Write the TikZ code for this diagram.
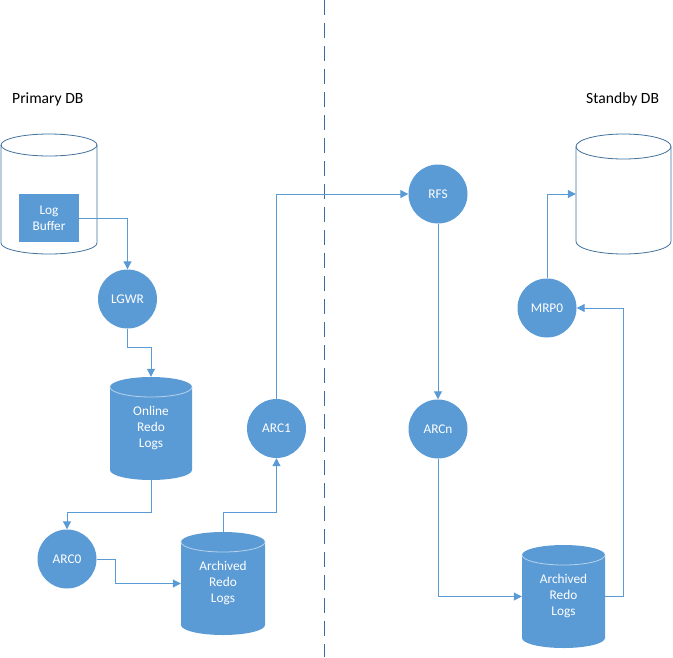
\documentclass[tikz,border=0pt]{standalone}
\usepackage{fontspec}
\setmainfont{Carlito}
\usetikzlibrary{arrows.meta}
\definecolor{dbblue}{HTML}{5B9BD5}
\definecolor{outl}{HTML}{41719C}
\definecolor{divc}{HTML}{3A6A9E}
\newcommand{\dbcyl}[8]{%
  \path[#1] ({#3-#6},{-(#4)-(#7)}) -- ({#3-#6},{-(#5)+(#7)})
     arc[start angle=180,end angle=360,x radius=#6pt,y radius=#7pt]
     -- ({#3+#6},{-(#4)-(#7)})
     arc[start angle=0,end angle=180,x radius=#6pt,y radius=#7pt] -- cycle;
  \draw[#1 rim] ({#3-#6},{-(#4)-(#7)}) arc[start angle=180,end angle=360,x radius=#6pt,y radius=#7pt];
  \node[cylbox, minimum width={2*#6}, minimum height={#5-#4}] (#2) at ({#3},{-(#4+#5)/2}) {#8};
}
\begin{document}
\begin{tikzpicture}[x=1pt,y=1pt,
  font=\fontsize{13.3}{16}\selectfont,
  lbl/.style={inner sep=0pt, anchor=west, font=\fontsize{15.6}{18}\selectfont, text=black},
  proc/.style={circle, fill=dbblue, minimum size=59pt, inner sep=0pt, text=white},
  lbuf/.style={rectangle, fill=dbblue, minimum width=60pt, minimum height=48pt, inner sep=0pt, text=white, align=center},
  cylbox/.style={rectangle, draw=none, inner sep=0pt, text=white, align=center},
  cylfill/.style={fill=dbblue},
  cylfill rim/.style={draw=white!55!dbblue, line width=0.8pt},
  cyloutline/.style={draw=outl, fill=white, line width=0.8pt},
  cyloutline rim/.style={draw=outl, line width=0.8pt},
  conn/.style={draw=dbblue, line width=1pt, -{Triangle[length=8pt,width=8pt]}},
  divider/.style={draw=divc, line width=1pt, dash pattern=on 15pt off 8pt}
]
\useasboundingbox (0,0) rectangle (673,-657);
\coordinate (divtop) at (324,0);
\coordinate (divbot) at (324,-657);
\draw[divider] (divtop) -- (divbot);

\node[lbl] (primary) at (12,-99) {Primary DB};
\node[lbl] (standbylbl) at (586,-99) {Standby DB};

\dbcyl{cyloutline}{primarydb}{49}{134}{254}{48}{11}{}
\dbcyl{cyloutline}{standby}{623.5}{134}{254}{47.5}{12.5}{}
\dbcyl{cylfill}{online}{151}{377}{480}{41}{10}{Online\\Redo\\Logs}
\dbcyl{cylfill}{archL}{223}{532}{635}{42}{10}{Archived\\Redo\\Logs}
\dbcyl{cylfill}{archR}{563.5}{545}{648}{41.5}{10}{Archived\\Redo\\Logs}

\node[lbuf] (logbuf) at (49,-218) {Log\\Buffer};

\node[proc] (lgwr) at (127.5,-299) {LGWR};
\node[proc] (arc1) at (276.5,-428.5) {ARC1};
\node[proc] (arc0) at (67,-559) {ARC0};
\node[proc] (rfs) at (438,-194) {RFS};
\node[proc] (arcn) at (438,-429) {ARCn};
\node[proc] (mrp0) at (547,-308) {MRP0};

\draw[conn] (logbuf.east) -| (lgwr.north);
\draw[conn] (lgwr.south) -- ++(0,-19) -| (online.north);
\draw[conn] (online.south) -- ++(0,-32) -| (arc0.north);
\draw[conn] (arc0.east) -- ++(19,0) |- (archL.west);
\draw[conn] (archL.north) -- ++(0,19) -| (arc1.south);
\draw[conn] (arc1.north) |- (rfs.west);
\draw[conn] (rfs.south) -- (arcn.north);
\draw[conn] (arcn.south) |- (archR.west);
\draw[conn] (archR.east) -- ++(18,0) |- (mrp0.east);
\draw[conn] (mrp0.north) |- (standby.west);
\end{tikzpicture}
\end{document}
